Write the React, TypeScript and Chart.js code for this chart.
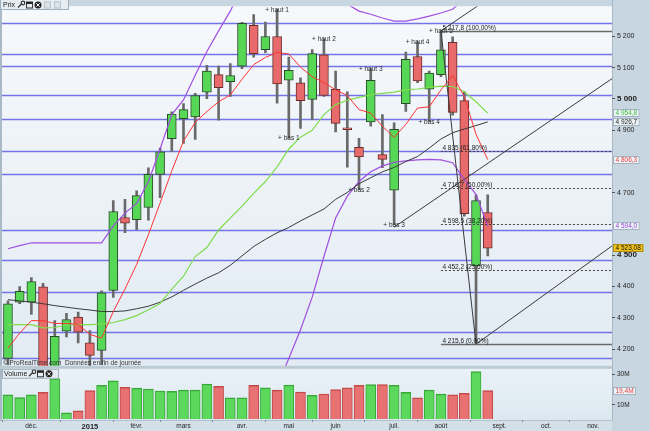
import React, { useEffect, useRef } from 'react';
import { Chart, registerables } from 'chart.js';

Chart.register(...registerables);

// Weekly candles (CAC 40), week starting dates
const weeks = ['17/11/14', '24/11/14', '01/12/14', '08/12/14', '15/12/14', '22/12/14', '29/12/14', '05/01/15', '12/01/15', '19/01/15', '26/01/15', '02/02/15', '09/02/15', '16/02/15', '23/02/15', '02/03/15', '09/03/15', '16/03/15', '23/03/15', '30/03/15', '06/04/15', '13/04/15', '20/04/15', '27/04/15', '04/05/15', '11/05/15', '18/05/15', '25/05/15', '01/06/15', '08/06/15', '15/06/15', '22/06/15', '29/06/15', '06/07/15', '13/07/15', '20/07/15', '27/07/15', '03/08/15', '10/08/15', '17/08/15', '24/08/15', '31/08/15'];

const openP = [4170, 4350, 4350, 4399, 4110, 4257, 4302, 4220, 4196, 4388, 4621, 4614, 4653, 4759, 4873, 4937, 4943, 5022, 5078, 5055, 5105, 5236, 5158, 5200, 5060, 5052, 4999, 5141, 5031, 4908, 4845, 4927, 4822, 4708, 4985, 5136, 5031, 5078, 5181, 4995, 4467, 4637];
const highP = [4354, 4400, 4429, 4410, 4291, 4314, 4318, 4259, 4386, 4675, 4679, 4706, 4780, 4843, 4959, 4985, 5018, 5108, 5105, 5113, 5245, 5270, 5246, 5286, 5134, 5068, 5158, 5192, 5089, 5023, 4874, 5097, 4950, 4924, 5150, 5183, 5089, 5217.8, 5199, 5024, 4693, 4693];
const lowP = [4150, 4345, 4311, 4100, 4020, 4239, 4220, 4130, 4150, 4365, 4572, 4582, 4612, 4684, 4832, 4858, 4871, 5001, 4932, 5008, 5097, 5134, 5148, 4987, 4875, 4906, 4934, 5008, 4895, 4782, 4710, 4913, 4780, 4598, 4960, 5052, 4928, 5071, 4948, 4625, 4215.6, 4498];
const closeP = [4345, 4385, 4416, 4108, 4241, 4294, 4254, 4180, 4380, 4640, 4603, 4691, 4759, 4831, 4952, 4966, 5011, 5089, 5036, 5075, 5242, 5145, 5200, 5048, 5092, 4995, 5145, 5011, 4922, 4902, 4815, 5060, 4807, 4903, 5127, 5058, 5083, 5157, 4957, 4633, 4675, 4523.08];

// Volume, millions
const volumeM = [16.7, 14.8, 16.7, 18.3, 27.4, 4.8, 6.1, 19.4, 22.9, 25.9, 21.6, 21.1, 20.5, 19.2, 19.0, 19.8, 19.8, 23.7, 22.2, 14.6, 14.6, 22.9, 21.3, 19.8, 23.1, 18.5, 16.4, 17.2, 20.2, 21.3, 22.9, 23.5, 23.5, 22.9, 18.3, 14.6, 19.8, 17.1, 16.7, 17.6, 32.0, 19.4];

// Moving averages and Bollinger bands
const maShort = [4203, 4251, 4291, 4291, 4282, 4282, 4279, 4247, 4235, 4320, 4392, 4471, 4566, 4667, 4770, 4865, 4925, 4960, 4991, 5013, 5063, 5110, 5133, 5149, 5144, 5102, 5071, 5053, 5029, 5011, 4966, 4955, 4913, 4877, 4919, 4971, 4975, 5029, 5076, 5007, 4887, 4806.3];
const maMid = [4278, 4278, 4278, 4268, 4269, 4277, 4278, 4278, 4280, 4285, 4294, 4307, 4326, 4346, 4392, 4433, 4496, 4525, 4581, 4619, 4657, 4698, 4736, 4783, 4840, 4878, 4900, 4950, 4982, 4996, 5005, 5013, 5018, 5022, 5029, 5032, 5037, 5041, 5040, 5023, 4991, 4954.8];
const maLong = [4358, 4354, 4350, 4345, 4339, 4334, 4329, 4325, 4320, 4320, 4322, 4329, 4337, 4350, 4367, 4388, 4408, 4427, 4444, 4468, 4498, 4528, 4551, 4572, 4589, 4610, 4629, 4648, 4679, 4701, 4729, 4748, 4767, 4781, 4800, 4816, 4843, 4872, 4892, 4904, 4915, 4926.7];
const bollUpper = [4521, 4531, 4540, 4540, 4540, 4540, 4540, 4540, 4540, 4594, 4635, 4666, 4735, 4840, 4950, 4997, 5076, 5152, 5218, 5281, 5360, 5420, 5460, 5486, 5502, 5494, 5440, 5404, 5345, 5303, 5281, 5271, 5259, 5249, 5249, 5256, 5265, 5275, 5287, 5320, 5340, 5380];
const bollLower = [4035, 4025, 4018, 4018, 4018, 4018, 4018, 4018, 4018, 3975, 3950, 3948, 3915, 3850, 3834, 3869, 3916, 3898, 3944, 3957, 3954, 3976, 4012, 4080, 4170, 4262, 4366, 4496, 4619, 4689, 4736, 4767, 4786, 4797, 4802, 4805, 4807, 4805, 4796, 4742, 4695, 4594];

// Axis ticks
const monthTickIndex = [2, 7, 11, 15, 20, 24, 28, 33, 37, 42, 46, 50];
const monthTickLabels = ['déc.', '2015', 'févr.', 'mars', 'avr.', 'mai', 'juin', 'juil.', 'août', 'sept.', 'oct.', 'nov.'];
const priceTicks = [5200, 5100, 5000, 4900, 4700, 4500, 4400, 4300, 4200];
const volumeTicks = [30, 10];

// Horizontal support / resistance lines
const levelLines = [5243, 5145, 5104, 5013, 4937, 4833, 4761, 4581, 4484, 4383, 4254, 4172];

// Fibonacci retracement
const fibStartIndex = 37;
const fibLevels = [5217.8, 4835, 4716.7, 4598.5, 4452.2, 4215.6];
const fibLabels = ['5 217,8 (100,00%)', '4 835 (61,80%)', '4 716,7 (50,00%)', '4 598,5 (38,20%)', '4 452,2 (23,60%)', '4 215,6 (0,00%)'];

// Trend lines (start index/value, end index/value)
const trendStartIndex = [37, 37, 33, 40];
const trendStartValue = [5217.8, 5217.8, 4590, 4215.6];
const trendEndIndex = [40, 51.62, 51.62, 51.62];
const trendEndValue = [4215.6, 5590, 5065, 4530];

// Pivot labels
const pivotNames = ['+ haut 1', '+ haut 2', '+ haut 3', '+ haut 4', '+ haut 5', '+ bas 1', '+ bas 2', '+ bas 3', '+ bas 4'];
const pivotIndex = [23, 27, 31, 35, 37, 24, 30, 33, 36];
const pivotIsHigh = [true, true, true, true, true, false, false, false, false];

// Last-value labels on the price axis
const lastValues = [4954.8, 4926.7, 4806.3, 4594.0, 4523.08];
const lastTexts = ['4 954,8', '4 926,7', '4 806,3', '4 594,0', '4 523,08'];
const lastColors = ['#3cbf3c', '#222222', '#e84040', '#9a44d8', '#111111'];
const lastBgs = ['#eef3f6', '#eef3f6', '#eef3f6', '#eef3f6', '#f2c417'];
const lastVolumeValue = 19.4;
const lastVolumeText = '19,4M';

const FONT = '"Liberation Sans", Arial, sans-serif';
const X_MIN = -0.51;
const X_MAX = 51.62;

function fmtThousands(v: number): string {
  const s = Math.round(v).toString();
  return s.length > 3 ? s.slice(0, s.length - 3) + ' ' + s.slice(s.length - 3) : s;
}

const bgPlugin = {
  id: 'bgPlugin',
  beforeDraw(chart: any) {
    const { ctx, chartArea } = chart;
    const y = chart.scales.y;
    const yv = chart.scales.yv;
    const w = chartArea.right - chartArea.left;
    ctx.save();
    ctx.fillStyle = '#c7d6e0';
    ctx.fillRect(0, 0, chart.width, chart.height);
    const g = ctx.createLinearGradient(0, y.top, 0, y.bottom);
    g.addColorStop(0, '#f6f9fc');
    g.addColorStop(1, '#e2ebf3');
    ctx.fillStyle = g;
    ctx.fillRect(chartArea.left, y.top, w, y.bottom - y.top);
    const g2 = ctx.createLinearGradient(0, yv.top, 0, yv.bottom);
    g2.addColorStop(0, '#eaf2f7');
    g2.addColorStop(1, '#dce8f0');
    ctx.fillStyle = g2;
    ctx.fillRect(chartArea.left, yv.top, w, yv.bottom - yv.top);
    ctx.fillStyle = '#d4e0e8';
    ctx.fillRect(0, chartArea.bottom, chartArea.right, chart.height - chartArea.bottom);
    // left border
    ctx.fillStyle = '#a9b9c5';
    ctx.fillRect(0, 0, chartArea.left, chartArea.bottom);
    // separator between panels
    ctx.fillStyle = '#bccad4';
    ctx.fillRect(0, y.bottom - 1, chartArea.right, 3);
    // right border of plot
    ctx.fillStyle = '#a7b8c4';
    ctx.fillRect(chartArea.right, 0, 1, chartArea.bottom);
    // bottom line of volume panel
    ctx.fillStyle = '#b3c3ce';
    ctx.fillRect(0, chartArea.bottom, chartArea.right, 1);
    ctx.restore();
  },
  beforeDatasetsDraw(chart: any) {
    const { ctx, chartArea } = chart;
    const y = chart.scales.y;
    ctx.save();
    ctx.beginPath();
    ctx.rect(chartArea.left, y.top, chartArea.right - chartArea.left, y.bottom - y.top);
    ctx.clip();
    ctx.strokeStyle = 'rgba(110,110,232,0.95)';
    ctx.lineWidth = 1.3;
    for (const v of levelLines) {
      const py = Math.round(y.getPixelForValue(v)) + 0.5;
      ctx.beginPath();
      ctx.moveTo(chartArea.left, py);
      ctx.lineTo(chartArea.right, py);
      ctx.stroke();
    }
    ctx.restore();
  },
};

const clipPlugin = {
  id: 'axisClip',
  beforeDatasetDraw(chart: any, args: any) {
    const meta = args.meta;
    const ys = chart.scales[meta.yAxisID];
    const ctx = chart.ctx;
    ctx.save();
    ctx.beginPath();
    ctx.rect(chart.chartArea.left, ys.top, chart.chartArea.right - chart.chartArea.left, ys.bottom - ys.top - 1);
    ctx.clip();
  },
  afterDatasetDraw(chart: any) {
    chart.ctx.restore();
  },
};

function drawIcons(ctx: CanvasRenderingContext2D, x0: number, y0: number, withGray: boolean) {
  // wrench
  ctx.strokeStyle = '#333';
  ctx.lineWidth = 1.2;
  ctx.beginPath();
  ctx.moveTo(x0, y0 + 7);
  ctx.lineTo(x0 + 4, y0 + 3);
  ctx.stroke();
  ctx.beginPath();
  ctx.arc(x0 + 5, y0 + 2.5, 1.8, 0, Math.PI * 2);
  ctx.stroke();
  // window
  ctx.lineWidth = 1;
  ctx.strokeRect(x0 + 8.5, y0 + 1.5, 6, 6);
  ctx.fillStyle = '#222';
  ctx.fillRect(x0 + 8.5, y0 + 1.5, 6, 2);
  // close
  ctx.fillStyle = '#222';
  ctx.beginPath();
  ctx.arc(x0 + 20, y0 + 4.5, 3.5, 0, Math.PI * 2);
  ctx.fill();
  ctx.strokeStyle = '#fff';
  ctx.beginPath();
  ctx.moveTo(x0 + 18.3, y0 + 2.8);
  ctx.lineTo(x0 + 21.7, y0 + 6.2);
  ctx.moveTo(x0 + 21.7, y0 + 2.8);
  ctx.lineTo(x0 + 18.3, y0 + 6.2);
  ctx.stroke();
  if (withGray) {
    ctx.strokeStyle = '#b8c2c9';
    ctx.fillStyle = '#dde4e9';
    ctx.fillRect(x0 + 26, y0 + 1, 7, 7);
    ctx.strokeRect(x0 + 26.5, y0 + 1.5, 6, 6);
    ctx.fillRect(x0 + 36, y0 + 1, 7, 7);
    ctx.strokeRect(x0 + 36.5, y0 + 1.5, 6, 6);
  }
}

const overlayPlugin = {
  id: 'overlay',
  afterDatasetsDraw(chart: any) {
    const { ctx, chartArea } = chart;
    const x = chart.scales.x;
    const y = chart.scales.y;
    ctx.save();
    ctx.beginPath();
    ctx.rect(chartArea.left, y.top, chartArea.right - chartArea.left, y.bottom - y.top);
    ctx.clip();

    // Fibonacci levels
    const fx = x.getPixelForValue(fibStartIndex);
    fibLevels.forEach((v, i) => {
      const py = Math.round(y.getPixelForValue(v)) + 0.5;
      const solid = i === 0 || i === fibLevels.length - 1;
      ctx.strokeStyle = solid ? '#6a6a6a' : '#444';
      ctx.lineWidth = solid ? 1.6 : 1;
      ctx.setLineDash(solid ? [] : [2, 2]);
      ctx.beginPath();
      ctx.moveTo(fx, py);
      ctx.lineTo(chartArea.right, py);
      ctx.stroke();
      ctx.setLineDash([]);
      ctx.font = '6.5px ' + FONT;
      ctx.fillStyle = '#222';
      ctx.textBaseline = 'bottom';
      ctx.textAlign = 'left';
      ctx.fillText(fibLabels[i], fx + 1.5, py - 0.5);
    });

    // Pivot labels
    ctx.font = '6.5px ' + FONT;
    ctx.fillStyle = '#2a2a2a';
    ctx.textAlign = 'center';
    ctx.textBaseline = 'middle';
    pivotNames.forEach((name, i) => {
      const idx = pivotIndex[i];
      const v = pivotIsHigh[i] ? highP[idx] : lowP[idx];
      ctx.fillText(name, x.getPixelForValue(idx), y.getPixelForValue(v) + 0.5);
    });
    ctx.restore();

    // Copyright
    ctx.save();
    ctx.font = '6.5px ' + FONT;
    ctx.textAlign = 'left';
    ctx.textBaseline = 'middle';
    ctx.fillStyle = '#333';
    ctx.fillText('© ProRealTime.com  Données en fin de journée', chartArea.left + 1, y.bottom - 4);
    ctx.restore();
  },
  afterDraw(chart: any) {
    const { ctx, chartArea } = chart;
    const y = chart.scales.y;
    const yv = chart.scales.yv;
    ctx.save();
    // last-value labels
    ctx.font = '6.5px ' + FONT;
    ctx.textBaseline = 'middle';
    ctx.textAlign = 'left';
    lastValues.forEach((v, i) => {
      const py = Math.round(y.getPixelForValue(v));
      const tx = chartArea.right + 1;
      const w = ctx.measureText(lastTexts[i]).width + 5;
      ctx.fillStyle = lastBgs[i];
      ctx.fillRect(tx, py - 4, w, 8);
      ctx.strokeStyle = i === 4 ? '#b08a10' : '#a3b3bf';
      ctx.lineWidth = 1;
      ctx.strokeRect(tx + 0.5, py - 3.5, w - 1, 7);
      ctx.fillStyle = lastColors[i];
      ctx.fillText(lastTexts[i], tx + 2.5, py + 0.5);
    });
    // volume last label
    {
      const py = Math.round(yv.getPixelForValue(lastVolumeValue));
      const tx = chartArea.right + 1;
      const w = ctx.measureText(lastVolumeText).width + 5;
      ctx.fillStyle = '#eef3f6';
      ctx.fillRect(tx, py - 4, w, 8);
      ctx.strokeStyle = '#a3b3bf';
      ctx.strokeRect(tx + 0.5, py - 3.5, w - 1, 7);
      ctx.fillStyle = '#e84040';
      ctx.fillText(lastVolumeText, tx + 2.5, py + 0.5);
    }
    // Price toolbar
    ctx.fillStyle = '#e6edf2';
    ctx.fillRect(0, 0, 69, 10);
    ctx.strokeStyle = '#9fb0bc';
    ctx.strokeRect(0.5, -0.5, 68, 10);
    ctx.font = '7px ' + FONT;
    ctx.fillStyle = '#222';
    ctx.fillText('Prix', 3, 5);
    drawIcons(ctx, 18, 0.5, true);
    // Volume toolbar
    const vy = yv.top + 2;
    ctx.fillStyle = '#e6edf2';
    ctx.fillRect(2, vy, 57, 10);
    ctx.strokeStyle = '#9fb0bc';
    ctx.strokeRect(2.5, vy + 0.5, 56, 9);
    ctx.fillStyle = '#222';
    ctx.font = '7px ' + FONT;
    ctx.fillText('Volume', 4, vy + 5);
    drawIcons(ctx, 29, vy + 0.5, false);
    ctx.restore();
  },
};

export default function App() {
  const canvasRef = useRef<HTMLCanvasElement | null>(null);

  useEffect(() => {
    document.body.style.margin = '0';
    const canvas = canvasRef.current;
    if (!canvas) return;
    Chart.defaults.font.family = FONT;
    Chart.defaults.color = '#222';

    const up = weeks.map((_, i) => closeP[i] >= openP[i]);
    const line = (arr: number[], color: string, width: number, order: number) => ({
      type: 'line' as const,
      data: arr.map((v, i) => ({ x: i, y: v })),
      borderColor: color,
      borderWidth: width,
      pointRadius: 0,
      tension: 0,
      yAxisID: 'y',
      order,
    });
    const trendSets = trendStartIndex.map((sx, i) => ({
      type: 'line' as const,
      data: [
        { x: sx, y: trendStartValue[i] },
        { x: trendEndIndex[i], y: trendEndValue[i] },
      ],
      borderColor: '#3a3a3a',
      borderWidth: 1,
      pointRadius: 0,
      tension: 0,
      yAxisID: 'y',
      order: -1,
    }));

    const chart = new Chart(canvas, {
      type: 'bar',
      data: {
        datasets: [
          line(bollUpper, '#a04ee2', 1.2, 3),
          line(bollLower, '#a04ee2', 1.2, 3),
          line(maLong, '#3a3a3a', 1, 2),
          line(maMid, '#7fdc4c', 1.2, 1),
          line(maShort, '#ff3434', 1, 0),
          ...trendSets,
          {
            type: 'bar' as const,
            data: weeks.map((_, i) => ({ x: i, y: [openP[i], closeP[i]] })),
            backgroundColor: up.map((u) => (u ? '#56d856' : '#e96a6a')),
            borderColor: up.map((u) => (u ? '#2c4a2c' : '#6a2c2c')),
            borderWidth: 1,
            borderSkipped: false,
            barThickness: 9,
            grouped: false,
            yAxisID: 'y',
            order: 10,
          },
          {
            type: 'bar' as const,
            data: weeks.map((_, i) => ({ x: i, y: [lowP[i], highP[i]] })),
            backgroundColor: '#6a6a6a',
            borderWidth: 0,
            barThickness: 2,
            grouped: false,
            yAxisID: 'y',
            order: 11,
          },
          {
            type: 'bar' as const,
            data: weeks.map((_, i) => ({ x: i, y: volumeM[i] })),
            backgroundColor: up.map((u) => (u ? '#5cd85c' : '#e87272')),
            borderColor: up.map((u) => (u ? '#38a838' : '#c44a4a')),
            borderWidth: { top: 1.5, left: 1, right: 1, bottom: 0 },
            borderSkipped: 'bottom',
            barThickness: 10,
            grouped: false,
            yAxisID: 'yv',
            order: 12,
          },
        ] as any,
      },
      options: {
        responsive: false,
        animation: false,
        events: [],
        layout: { padding: { left: 2, right: 0, top: 0, bottom: 0 } },
        plugins: { legend: { display: false }, tooltip: { enabled: false } },
        scales: {
          x: {
            type: 'linear',
            min: X_MIN,
            max: X_MAX,
            offset: false,
            afterBuildTicks: (scale: any) => {
              scale.ticks = monthTickIndex.map((v) => ({ value: v }));
            },
            afterFit: (scale: any) => {
              scale.height = 11;
            },
            ticks: {
              autoSkip: false,
              maxRotation: 0,
              padding: 0,
              color: '#222',
              callback: (v: any) => monthTickLabels[monthTickIndex.indexOf(Number(v))] ?? '',
              font: (c: any) =>
                c.tick && c.tick.value === 7 ? { size: 7.5, weight: 'bold' } : { size: 6.5 },
            },
            grid: { drawOnChartArea: false, tickLength: 2, color: '#7d8c97' },
            border: { display: false },
          },
          y: {
            type: 'linear',
            position: 'right',
            stack: 'main',
            stackWeight: 366,
            min: 4143.3,
            max: 5296.8,
            afterBuildTicks: (scale: any) => {
              scale.ticks = priceTicks.map((v) => ({ value: v }));
            },
            afterFit: (scale: any) => {
              scale.width = 38;
            },
            ticks: {
              padding: 2,
              color: '#222',
              callback: (v: any) => fmtThousands(Number(v)),
              font: (c: any) =>
                c.tick && c.tick.value % 500 === 0 ? { size: 8, weight: 'bold' } : { size: 7 },
            },
            grid: { drawOnChartArea: false, tickLength: 3, color: '#555' },
            border: { display: false },
          },
          yv: {
            type: 'linear',
            position: 'right',
            stack: 'main',
            stackWeight: 54,
            min: 0,
            max: 35.2,
            afterBuildTicks: (scale: any) => {
              scale.ticks = volumeTicks.map((v) => ({ value: v }));
            },
            afterFit: (scale: any) => {
              scale.width = 38;
            },
            ticks: {
              padding: 2,
              color: '#222',
              font: { size: 6.5 },
              callback: (v: any) => v + 'M',
            },
            grid: { drawOnChartArea: false, tickLength: 3, color: '#555' },
            border: { display: false },
          },
        },
      } as any,
      plugins: [bgPlugin, clipPlugin, overlayPlugin],
    });

    return () => chart.destroy();
  }, []);

  return (
    <div style={{ position: 'fixed', left: 0, top: 0, width: 650, height: 431 }}>
      <canvas ref={canvasRef} width={650} height={431} style={{ display: 'block', width: 650, height: 431 }} />
    </div>
  );
}
